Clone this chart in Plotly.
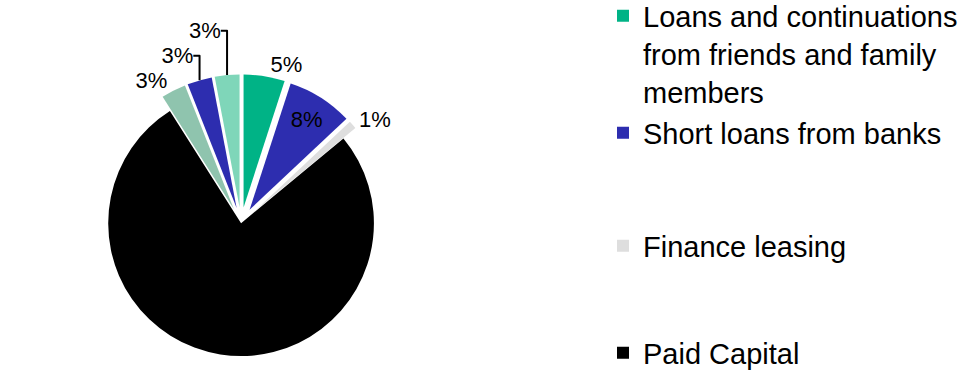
import plotly.graph_objects as go

# Data
slice_labels = [
    "Loans and continuations from friends and family members",
    "Short loans from banks",
    "Finance leasing",
    "Paid Capital",
    "Other source A",
    "Other source B",
    "Other source C",
]
slice_values = [5, 8, 1, 77, 3, 3, 3]
slice_colors = ["#00B386", "#2D2DAF", "#DEDEDE", "#000000", "#8FC4AE", "#2D2DAF", "#7FD6B9"]

legend_labels = [
    "Loans and continuations<br>from friends and family<br>members",
    "Short loans from banks",
    "Finance leasing",
    "Paid Capital",
]
legend_colors = ["#00B386", "#2D2DAF", "#DEDEDE", "#000000"]
legend_line_y = [54, 133, 246, 353]  # pixel centres of legend entries

text_positions = ["outside", "inside", "outside", "inside", "outside", "outside", "outside"]
text_templates = ["%{percent:.0%}", "%{percent:.0%}", "%{percent:.0%}", "", "%{percent:.0%}", "%{percent:.0%}", "%{percent:.0%}"]
pulls = [0.12, 0.12, 0.12, 0.0, 0.12, 0.12, 0.12]

W, H = 974, 372
FONT = "Liberation Sans, Arial, sans-serif"

fig = go.Figure()
fig.add_trace(go.Pie(
    labels=slice_labels,
    values=slice_values,
    marker=dict(colors=slice_colors, line=dict(width=0)),
    sort=False,
    direction="clockwise",
    rotation=0,
    pull=pulls,
    textposition=text_positions,
    texttemplate=text_templates,
    insidetextorientation="horizontal",
    textfont=dict(family=FONT, size=22, color="#000000"),
    showlegend=False,
    domain=dict(x=[0.02, 0.475], y=[0.0, 0.8]),
))

for i, (lab, col) in enumerate(zip(legend_labels, legend_colors)):
    lname = "legend" if i == 0 else f"legend{i+1}"
    fig.add_trace(go.Scatter(
        x=[None], y=[None], mode="markers", name=lab,
        marker=dict(symbol="square", size=14, color=col),
        legend=lname, showlegend=True, hoverinfo="skip",
    ))
    fig.update_layout(**{lname: dict(
        xref="paper", yref="paper",
        x=603 / W, y=1 - legend_line_y[i] / H,
        xanchor="left", yanchor="middle",
        valign="top",
        font=dict(family=FONT, size=29, color="#000000"),
        bgcolor="rgba(0,0,0,0)", borderwidth=0,
        itemsizing="constant",
    )})

fig.update_layout(
    width=W, height=H,
    margin=dict(l=0, r=0, t=0, b=0, autoexpand=False),
    paper_bgcolor="white", plot_bgcolor="white",
    xaxis=dict(visible=False), yaxis=dict(visible=False),
    font=dict(family=FONT),
)

fig.write_html("out.html")
